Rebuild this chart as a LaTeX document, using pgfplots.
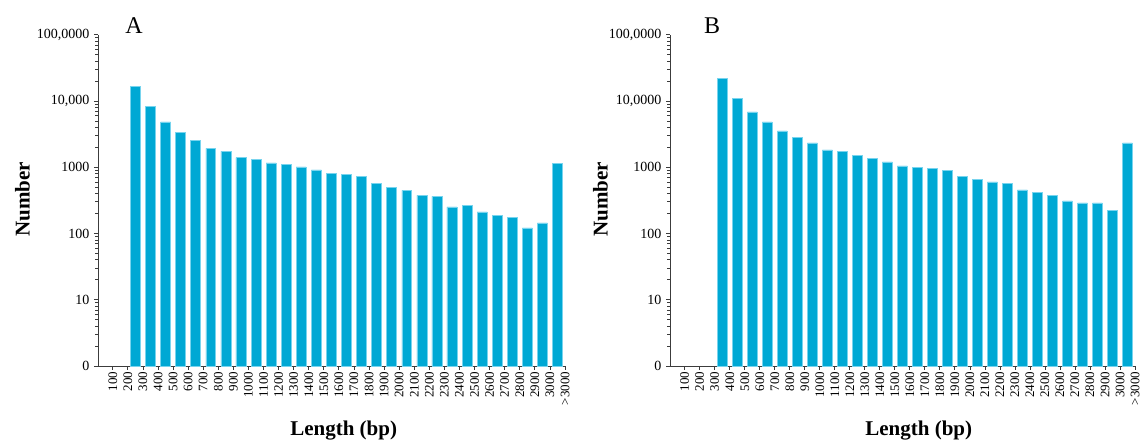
\documentclass[border=0pt]{standalone}
\usepackage{pgfplots}
\pgfplotsset{compat=1.18}
\usepackage{fontspec}
\setmainfont{Liberation Serif}
\definecolor{barblue}{RGB}{0,168,212}
\definecolor{baredge}{RGB}{120,212,238}
\definecolor{axgray}{RGB}{60,60,60}
\begin{document}
\begin{tikzpicture}
\begin{axis}[at={(98pt,73pt)}, anchor=south west,
  scale only axis, width=467pt, height=331.3pt,
  ymode=log, ymin=1, ymax=100000, log origin=infty,
  xmin=-0.98, xmax=30,
  axis x line*=bottom, axis y line*=left,
  axis line style={draw=axgray, line width=0.9pt},
  tick style={draw=axgray, line width=0.8pt},
  tick align=outside, major tick length=4pt,
  xtick={0,...,30},
  xticklabels={100,200,300,400,500,600,700,800,900,1000,1100,1200,1300,1400,1500,1600,1700,1800,1900,2000,2100,2200,2300,2400,2500,2600,2700,2800,2900,3000,{>3000}},
  xticklabel style={rotate=90, anchor=east, font=\fontsize{13}{13}\selectfont, inner sep=1.5pt},
  ytick={1,10,100,1000,10000,100000},
  yticklabels={0,10,100,1000,{10,000},{100,0000}},
  yticklabel style={font=\fontsize{14}{14}\selectfont, inner sep=1.5pt, xshift=-3pt},
  xlabel={Length (bp)}, ylabel={Number},
  label style={font=\fontsize{21}{22}\selectfont\bfseries},
  xlabel style={at={(axis description cs:0.526,-0.196)}, anchor=center},
  ylabel style={at={(axis description cs:-0.162,0.503)}, anchor=center},
  clip=false,
]
\addplot[ybar, bar width=0.66, fill=barblue, draw=baredge, line width=0.5pt] coordinates {
(1.5,16600) (2.5,8300) (3.5,4840) (4.5,3350) (5.5,2560) (6.5,1920) (7.5,1730) (8.5,1390) (9.5,1310) (10.5,1165)
(11.5,1113) (12.5,1014) (13.5,914) (14.5,806) (15.5,787) (16.5,734) (17.5,576) (18.5,501) (19.5,447) (20.5,375)
(21.5,363) (22.5,253) (23.5,265) (24.5,212) (25.5,189) (26.5,177) (27.5,122) (28.5,144) (29.5,1140)
};
\end{axis}
\begin{axis}[at={(670pt,73pt)}, anchor=south west,
  scale only axis, width=465pt, height=331.3pt,
  ymode=log, ymin=1, ymax=100000, log origin=infty,
  xmin=-0.98, xmax=30,
  axis x line*=bottom, axis y line*=left,
  axis line style={draw=axgray, line width=0.9pt},
  tick style={draw=axgray, line width=0.8pt},
  tick align=outside, major tick length=4pt,
  xtick={0,...,30},
  xticklabels={100,200,300,400,500,600,700,800,900,1000,1100,1200,1300,1400,1500,1600,1700,1800,1900,2000,2100,2200,2300,2400,2500,2600,2700,2800,2900,3000,{>3000}},
  xticklabel style={rotate=90, anchor=east, font=\fontsize{13}{13}\selectfont, inner sep=1.5pt},
  ytick={1,10,100,1000,10000,100000},
  yticklabels={0,10,100,1000,{10,0000},{100,0000}},
  yticklabel style={font=\fontsize{14}{14}\selectfont, inner sep=1.5pt, xshift=-3pt},
  xlabel={Length (bp)}, ylabel={Number},
  label style={font=\fontsize{21}{22}\selectfont\bfseries},
  xlabel style={at={(axis description cs:0.535,-0.196)}, anchor=center},
  ylabel style={at={(axis description cs:-0.1495,0.503)}, anchor=center},
  clip=false,
]
\addplot[ybar, bar width=0.66, fill=barblue, draw=baredge, line width=0.5pt] coordinates {
(2.5,21850) (3.5,11020) (4.5,6850) (5.5,4840) (6.5,3540) (7.5,2813) (8.5,2334) (9.5,1830) (10.5,1730) (11.5,1522)
(12.5,1358) (13.5,1206) (14.5,1050) (15.5,993) (16.5,969) (17.5,895) (18.5,734) (19.5,654) (20.5,603) (21.5,576)
(22.5,456) (23.5,417) (24.5,375) (25.5,311) (26.5,290) (27.5,290) (28.5,225) (29.5,2334)
};
\end{axis}
\node[anchor=base, font=\fontsize{24}{24}\selectfont] at (134pt,405pt) {A};
\node[anchor=base, font=\fontsize{24}{24}\selectfont] at (712pt,405pt) {B};
\pgfresetboundingbox
\path (0,0) rectangle (1142pt,439pt);
\end{tikzpicture}
\end{document}
